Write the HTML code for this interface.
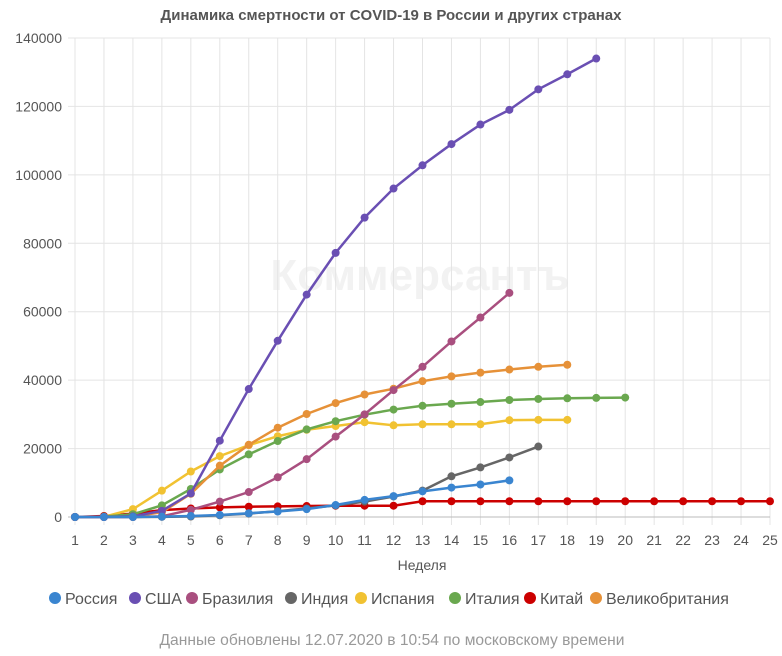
<!DOCTYPE html>
<html><head><meta charset="utf-8"><style>
body{margin:0;background:#fff;font-family:"Liberation Sans",sans-serif;}
svg text{font-family:"Liberation Sans",sans-serif;}
</style></head><body>
<svg width="782" height="651" id="c">
<text x="391" y="20" text-anchor="middle" font-size="15" font-weight="bold" fill="#555">Динамика смертности от COVID-19 в России и других странах</text>
<text x="420" y="290" text-anchor="middle" font-size="44" font-weight="bold" fill="#f2f2f2">Коммерсантъ</text>
<g id="grid"></g><g id="series"></g>
<text x="422" y="570" text-anchor="middle" font-size="14" fill="#555">Неделя</text>
<g id="legend"></g>
<text x="392" y="645" text-anchor="middle" font-size="15.6" fill="#999">Данные обновлены 12.07.2020 в 10:54 по московскому времени</text>
</svg>
<script>
const weeks=[1,2,3,4,5,6,7,8,9,10,11,12,13,14,15,16,17,18,19,20,21,22,23,24,25];
const yTicks=[0,20000,40000,60000,80000,100000,120000,140000];
const names=["Россия","США","Бразилия","Индия","Испания","Италия","Китай","Великобритания"];
const colors=["#3a85d0","#6a4fb3","#a94f7f","#666666","#f1c232","#6aa84f","#cc0000","#e69138"];
const russia=[0,0,0,100,300,600,1100,1600,2300,3500,5000,6100,7500,8600,9500,10700];
const usa=[0,0,200,1800,6900,22300,37400,51500,65000,77200,87500,96000,102800,109000,114700,119000,125000,129400,134000];
const brazil=[0,0,0,200,2100,4500,7300,11600,16900,23500,30000,37100,43900,51300,58300,65500];
const india=[0,0,0,50,150,500,1000,1700,2500,3400,4500,6000,7700,11900,14500,17400,20600];
const spain=[0,50,2300,7700,13300,17800,21000,23600,25500,26600,27700,26800,27100,27100,27100,28300,28400,28400];
const italy=[0,100,800,3400,8200,13900,18300,22200,25600,28000,29900,31400,32500,33100,33600,34200,34500,34700,34800,34900];
const china=[0,300,1000,2000,2500,2800,3000,3100,3200,3300,3300,3300,4600,4600,4600,4600,4600,4600,4600,4600,4600,4600,4600,4600,4600];
const uk=[0,0,100,1400,6800,15000,21100,26100,30100,33300,35800,37500,39700,41100,42200,43100,43900,44500];
const data=[russia,usa,brazil,india,spain,italy,china,uk];
const order=[6,3,4,5,7,2,1,0];
const NS="http://www.w3.org/2000/svg";
const X=w=>75+(w-1)*(695/24), Y=v=>517-v*(479/140000);
function mk(t,a,p){const e=document.createElementNS(NS,t);for(const k in a)e.setAttribute(k,a[k]);p.appendChild(e);return e;}
const g=document.getElementById('grid');
weeks.forEach(w=>{const l=mk('line',{x1:X(w),x2:X(w),y1:38,y2:525,stroke:'#e4e4e4'},g);

const t=mk('text',{x:X(w),y:545,'text-anchor':'middle','font-size':14,fill:'#555'},g);t.textContent=w;
});
yTicks.forEach(v=>{const l=mk('line',{x1:68,x2:770,y1:Y(v),y2:Y(v),stroke:v?'#e4e4e4':'#bbb'},g);

const t=mk('text',{x:62,y:Y(v)+5,'text-anchor':'end','font-size':14,fill:'#555'},g);t.textContent=v;
});
const s=document.getElementById('series');
order.forEach(i=>{const d=data[i];const sg=mk('g',{},s);

const pl=mk('polyline',{points:d.map((v,k)=>X(weeks[k])+','+Y(v)).join(' '),fill:'none',stroke:colors[i],'stroke-width':2.5},sg);

d.forEach((v,k)=>{const c=mk('circle',{cx:X(weeks[k]),cy:Y(v),r:4,fill:colors[i]},sg);
});});
const lg=document.getElementById('legend');
const lx=[55,135,192,291,361,455,530,596];
names.forEach((n,i)=>{const c=mk('circle',{cx:lx[i],cy:598,r:6,fill:colors[i]},lg);

const t=mk('text',{x:lx[i]+10,y:604,'font-size':16,fill:'#555'},lg);t.textContent=n;
});
</script>
</body></html>
